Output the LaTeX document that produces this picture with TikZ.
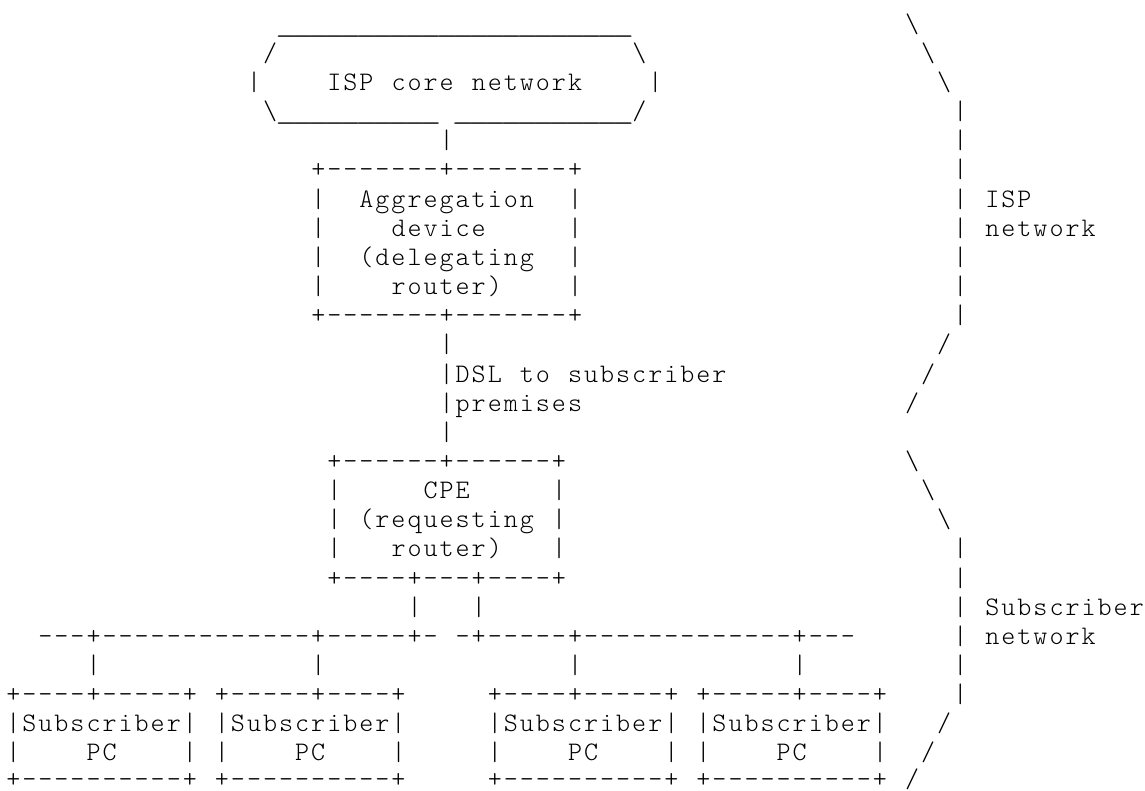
\documentclass[tikz,border=0pt]{standalone}
\usepackage{fontspec}
\usepackage{graphicx}
\newfontfamily\asciifont{lmmonolt10-regular.otf}
\newlength\rskcw
\setlength\rskcw{8.025pt}
\makeatletter
\def\rsk@nil{\rsk@nil}
\def\rskcells#1{\rsk@cells#1\rsk@nil}
\def\rsk@one#1{\ifx#1\_\scalebox{1.55}[1]{\_}\else#1\fi}
\def\rsk@cells#1{\ifx#1\rsk@nil\else\makebox[\rskcw]{\rsk@one{#1}}\expandafter\rsk@cells\fi}
\makeatother
\tikzset{
  asc/.style={anchor=base west, inner sep=0pt, outer sep=0pt,
    font=\asciifont\fontsize{13.375pt}{16pt}\selectfont}
}
\newcommand\ascat[4]{\node[asc] (#1) at ({5.3+16.05*(#2)},{32.2+29.15*(#3)}) {\rskcells{#4}};}
\begin{document}
\begin{tikzpicture}[x=0.5pt,y=-0.5pt]
\useasboundingbox (0,0) rectangle (1145,791);
% ISP core network cloud
\ascat{coretop}{17}{0}{\_\_\_\_\_\_\_\_\_\_\_\_\_\_\_\_\_\_\_\_\_\_}
\ascat{corenw}{16}{1}{/}
\ascat{corene}{39}{1}{\textbackslash}
\ascat{corew}{15}{2}{|}
\ascat{coretxta}{20}{2}{ISP}
\ascat{coretxtb}{24}{2}{core}
\ascat{coretxtc}{29}{2}{network}
\ascat{coree}{40}{2}{|}
\ascat{corebota}{16}{3}{\textbackslash\_\_\_\_\_\_\_\_\_\_}
\ascat{corebotb}{28}{3}{\_\_\_\_\_\_\_\_\_\_\_/}
\ascat{linkcore}{27}{4}{|}
% Aggregation device
\ascat{aggtop}{19}{5}{+-------+-------+}
\foreach \r in {6,...,9}{\ascat{aggl\r}{19}{\r}{|}\ascat{aggr\r}{35}{\r}{|}}
\ascat{aggtxta}{22}{6}{Aggregation}
\ascat{aggtxtb}{24}{7}{device}
\ascat{aggtxtc}{22}{8}{(delegating}
\ascat{aggtxtd}{24}{9}{router)}
\ascat{aggbot}{19}{10}{+-------+-------+}
% DSL link
\ascat{dsla}{27}{11}{|}
\ascat{dslb}{27}{12}{|DSL}
\ascat{dslc}{32}{12}{to}
\ascat{dsld}{35}{12}{subscriber}
\ascat{dsle}{27}{13}{|premises}
\ascat{dslf}{27}{14}{|}
% CPE
\ascat{cpetop}{20}{15}{+------+------+}
\foreach \r in {16,...,18}{\ascat{cpel\r}{20}{\r}{|}\ascat{cper\r}{34}{\r}{|}}
\ascat{cpetxta}{26}{16}{CPE}
\ascat{cpetxtb}{22}{17}{(requesting}
\ascat{cpetxtc}{24}{18}{router)}
\ascat{cpebot}{20}{19}{+----+---+----+}
\ascat{cpelinka}{25}{20}{|}
\ascat{cpelinkb}{29}{20}{|}
% LAN buses
\ascat{busa}{2}{21}{---+-------------+-----+-}
\ascat{busb}{28}{21}{-+-----+-------------+---}
\foreach \c [count=\i] in {5,19,35,49}{\ascat{drop\i}{\c}{22}{|}}
% Subscriber PCs
\ascat{pctop1}{0}{23}{+----+-----+}
\ascat{pctop2}{13}{23}{+-----+----+}
\ascat{pctop3}{30}{23}{+----+-----+}
\ascat{pctop4}{43}{23}{+-----+----+}
\foreach \c [count=\i] in {0,13,30,43}{
  \ascat{pctxt\i}{\c}{24}{|Subscriber|}
  \ascat{pcl\i}{\c}{25}{|}
  \ascat{pcpc\i}{\c+5}{25}{PC}
  \ascat{pcr\i}{\c+11}{25}{|}
  \ascat{pcbot\i}{\c}{25.92}{+----------+}
}
% Right-hand braces
\ascat{ispbra}{56}{0}{\textbackslash}
\ascat{ispbrb}{57}{1}{\textbackslash}
\ascat{ispbrc}{58}{2}{\textbackslash}
\foreach \r in {3,...,10}{\ascat{ispbar\r}{59}{\r}{|}}
\ascat{ispbrd}{58}{11}{/}
\ascat{ispbre}{57}{12}{/}
\ascat{ispbrf}{56}{13}{/}
\ascat{isplbla}{61}{6}{ISP}
\ascat{isplblb}{61}{7}{network}
\ascat{subbra}{56}{15}{\textbackslash}
\ascat{subbrb}{57}{16}{\textbackslash}
\ascat{subbrc}{58}{17}{\textbackslash}
\foreach \r in {18,...,23}{\ascat{subbar\r}{59}{\r}{|}}
\ascat{subbrd}{58}{24}{/}
\ascat{subbre}{57}{25}{/}
\ascat{subbrf}{56}{25.92}{/}
\ascat{sublbla}{61}{20}{Subscriber}
\ascat{sublblb}{61}{21}{network}
\end{tikzpicture}
\end{document}
